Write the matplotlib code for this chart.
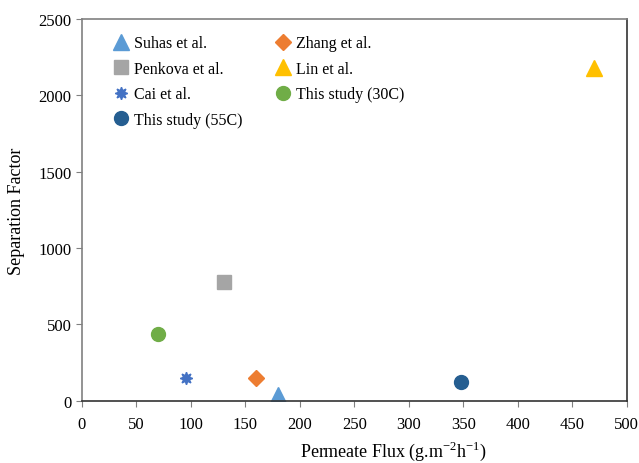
import matplotlib
matplotlib.use("Agg")
import matplotlib.pyplot as plt

plt.rcParams['font.family'] = ['Liberation Serif', 'DejaVu Serif']
plt.rcParams['mathtext.fontset'] = 'custom'
plt.rcParams['mathtext.rm'] = 'Liberation Serif'

# data
labels = ['Suhas et al.', 'Penkova et al.', 'Cai et al.', 'This study (55C)',
          'Zhang et al.', 'Lin et al.', 'This study (30C)']
flux = [180, 130, 96, 348, 160, 470, 70]
sep_factor = [40, 775, 150, 120, 150, 2180, 440]
colors = ['#5B9BD5', '#A5A5A5', '#4472C4', '#255E91', '#ED7D31', '#FFC000', '#70AD47']
markers = ['^', 's', (8, 1, 0), 'o', 'D', '^', 'o']
sizes = [11, 10, 9, 10, 8, 11, 10]

fig = plt.figure(figsize=(6.39, 4.64), dpi=100)
ax = fig.add_axes([0.128, 0.134, 0.853, 0.823])

for lab, x, y, c, m, s in zip(labels, flux, sep_factor, colors, markers, sizes):
    ax.plot(x, y, linestyle='none', marker=m, markersize=s, color=c,
            markeredgecolor=c, label=lab)

ax.set_xlim(0, 500)
ax.set_ylim(0, 2500)
ax.set_xticks(range(0, 501, 50))
ax.set_yticks(range(0, 2501, 500))
ax.tick_params(labelsize=12, direction='out', length=4, color='#808080')
ax.tick_params(axis='x', pad=7)

ax.spines['left'].set_color('#808080')
ax.spines['top'].set_color('#808080')
ax.spines['bottom'].set_color('#333333')
ax.spines['right'].set_color('#333333')
for sp in ax.spines.values():
    sp.set_linewidth(1.2)

ax.set_ylabel('Separation Factor', fontsize=13)
ax.set_xlabel(r'Permeate Flux (g.m$^{\mathregular{-2}}$h$^{\mathregular{-1}}$)', fontsize=13)
ax.yaxis.set_label_coords(-0.105, 0.5)
ax.xaxis.set_label_coords(0.571, -0.1)

ax.legend(loc='upper left', bbox_to_anchor=(0.028, 0.995), ncol=2, frameon=False,
          fontsize=11.5, handletextpad=0.2, handlelength=1.2, columnspacing=1.95,
          labelspacing=0.6)

fig.savefig('out.png', dpi=100)
